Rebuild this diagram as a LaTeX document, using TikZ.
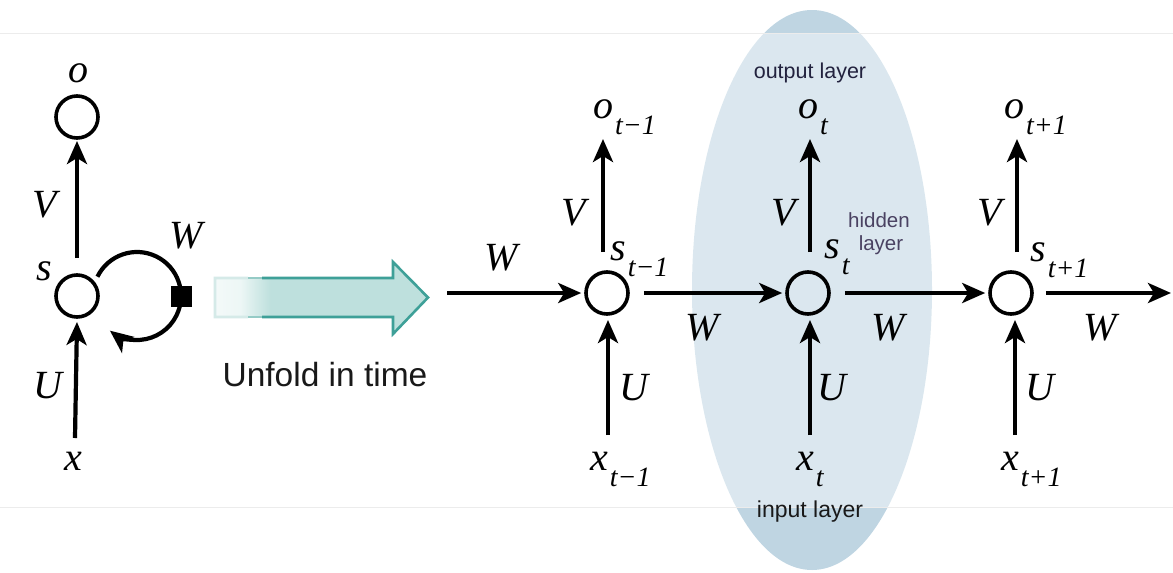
\documentclass[tikz,border=0pt]{standalone}
\usepackage{fontspec}
\setmainfont{Liberation Serif}
\setsansfont{Liberation Sans}
\usetikzlibrary{arrows.meta}
\definecolor{ellout}{HTML}{BFD5E2}
\definecolor{tealfill}{HTML}{BEE0DD}
\definecolor{tealline}{HTML}{3EA098}
\definecolor{hidcol}{HTML}{4A4262}
\definecolor{outcol}{HTML}{22223E}
\definecolor{bandline}{HTML}{ECECEC}
\newcommand\lab[2]{#1\kern2pt\raisebox{-16pt}{\fontsize{28}{30}\selectfont #2}}
\pgfdeclarehorizontalshading{arrowshade}{100bp}{color(0bp)=(white!82!tealfill); color(25bp)=(white!82!tealfill); color(31bp)=(white!72!tealfill); color(34bp)=(white!40!tealfill); color(38bp)=(tealfill); color(100bp)=(tealfill)}
\tikzset{
  neuron/.style={draw, circle, line width=3.6pt, minimum size=42pt, inner sep=0pt},
  arr/.style={line width=4.2pt, -{Stealth[length=23pt,width=20pt,inset=6pt]}},
  lbl/.style={font=\fontsize{40}{44}\selectfont\itshape, inner sep=0pt},
  layertxt/.style={font=\sffamily, inner sep=0pt, anchor=base},
  sqbox/.style={fill=black, minimum size=21pt, inner sep=0pt},
}
\begin{document}
\begin{tikzpicture}[x=1pt,y=-1pt]
\useasboundingbox (0,0) rectangle (1173,573);
% background ellipse and band
\fill[ellout] (812,290) ellipse[x radius=120, y radius=280];
\fill[white, opacity=0.45] (0,33) rectangle (1173,507);
\draw[bandline, line width=1pt] (0,33) -- (1173,33);
\draw[bandline, line width=1pt] (0,507) -- (1173,507);

% ---------- folded network ----------
\node[neuron] (ol) at (77,117) {};
\node[neuron] (sl) at (77,296) {};
\node[lbl, anchor=base] (olab) at (78,82) {o};
\node[lbl, anchor=base] (vlab) at (45,217) {V};
\node[lbl, anchor=base] (wlab) at (186,248) {W};
\node[lbl, anchor=base] (slab) at (44,280) {s};
\node[lbl, anchor=base] (ulab) at (48,398) {U};
\node[lbl, anchor=base] (xlab) at (73,470) {x};
\coordinate (vtl) at (77,258);
\coordinate (vhl) at (77,141);
\coordinate (utl) at (75,438);
\coordinate (uhl) at (77,322);
\draw[arr] (vtl) -- (vhl);
\draw[arr] (utl) -- (uhl);
\coordinate (lc) at (137,296);
\draw[arr] ([shift={(-154:44)}]lc) arc[start angle=-154, end angle=128, radius=44];
\node[sqbox] (sq) at (181,296) {};

% ---------- unfold arrow ----------
\path[shading=arrowshade] (215,278) -- (393,278) -- (393,262) -- (428,297.5) -- (393,334) -- (393,317) -- (215,317) -- cycle;
\begin{scope}
  \clip (200,0) rectangle (248,573);
  \draw[white!78!tealline, line width=2.6pt, line join=miter] (215,278) -- (393,278) -- (393,262) -- (428,297.5) -- (393,334) -- (393,317) -- (215,317) -- cycle;
\end{scope}
\begin{scope}
  \clip (248,0) rectangle (262,573);
  \draw[white!45!tealline, line width=2.6pt] (215,278) -- (393,278) (215,317) -- (393,317);
\end{scope}
\begin{scope}
  \clip (262,0) rectangle (440,573);
  \draw[tealline, line width=2.6pt, line join=miter] (215,278) -- (393,278) -- (393,262) -- (428,297.5) -- (393,334) -- (393,317) -- (215,317);
\end{scope}
\node[font=\sffamily\fontsize{33.5}{40}\selectfont, text=black!90, anchor=base, inner sep=0pt] (unf) at (325,386) {Unfold in time};

% ---------- unfolded network ----------
\node[neuron] (c1) at (607,293) {};
\node[neuron] (c2) at (808,293) {};
\node[neuron] (c3) at (1011,293) {};

\coordinate (win) at (447,293);
\coordinate (wout) at (1171,293);
\draw[arr, shorten >=3pt] (win) -- (c1.west);
\draw[arr, shorten <=14pt, shorten >=3pt] (c1.east) -- (c2.west);
\draw[arr, shorten <=14pt, shorten >=3pt] (c2.east) -- (c3.west);
\draw[arr, shorten <=12pt] (c3.east) -- (wout);

% vertical arrows
\coordinate (vt1) at (603,252);  \coordinate (vh1) at (603,139);
\coordinate (vt2) at (810,252);  \coordinate (vh2) at (810,139);
\coordinate (vt3) at (1017,252); \coordinate (vh3) at (1017,139);
\coordinate (ut1) at (608,435);  \coordinate (uh1) at (608,320);
\coordinate (ut2) at (810,435);  \coordinate (uh2) at (810,320);
\coordinate (ut3) at (1015,435); \coordinate (uh3) at (1015,320);
\foreach \i in {1,2,3}{
  \draw[arr] (vt\i) -- (vh\i);
  \draw[arr] (ut\i) -- (uh\i);
}

% labels
\node[lbl, anchor=base] (w0) at (501,270) {W};
\node[lbl, anchor=base] (w1) at (702,340) {W};
\node[lbl, anchor=base] (w2) at (888,340) {W};
\node[lbl, anchor=base] (w3) at (1100,340) {W};
\node[lbl, anchor=base] (v1) at (574,225) {V};
\node[lbl, anchor=base] (v2) at (784,225) {V};
\node[lbl, anchor=base] (v3) at (990,225) {V};
\node[lbl, anchor=base] (u1) at (634,400) {U};
\node[lbl, anchor=base] (u2) at (832,400) {U};
\node[lbl, anchor=base] (u3) at (1040,400) {U};
\node[lbl, anchor=base west] (o1) at (593,118) {\lab{o}{t−1}};
\node[lbl, anchor=base west] (o2) at (798,118) {\lab{o}{t}};
\node[lbl, anchor=base west] (o3) at (1004,118) {\lab{o}{t+1}};
\node[lbl, anchor=base west] (s1) at (610,260) {\lab{s}{t−1}};
\node[lbl, anchor=base west] (s2) at (824,258) {\lab{s}{t}};
\node[lbl, anchor=base west] (s3) at (1030,261) {\lab{s}{t+1}};
\node[lbl, anchor=base west] (x1) at (590,470) {\lab{x}{t−1}};
\node[lbl, anchor=base west] (x2) at (796,470) {\lab{x}{t}};
\node[lbl, anchor=base west] (x3) at (1001,470) {\lab{x}{t+1}};

\node[layertxt, text=outcol, font=\sffamily\fontsize{21.5}{24}\selectfont] (outl) at (810,78) {output layer};
\node[layertxt, text=hidcol, font=\sffamily\fontsize{20.5}{23}\selectfont] (hid1) at (879,227) {hidden};
\node[layertxt, text=hidcol, font=\sffamily\fontsize{20.5}{23}\selectfont] (hid2) at (881,250) {layer};
\node[layertxt, text=black!90, font=\sffamily\fontsize{23}{26}\selectfont] (inl) at (810,517) {input layer};
\end{tikzpicture}
\end{document}
